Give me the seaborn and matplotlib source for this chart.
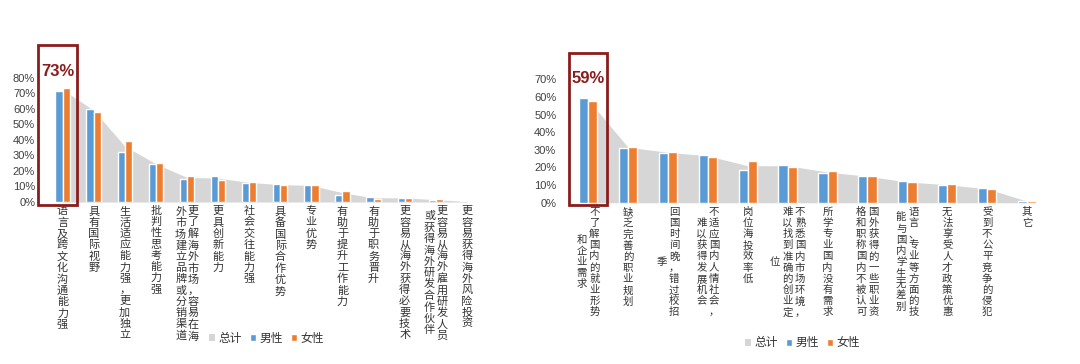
import numpy as np
import pandas as pd
import seaborn as sns
import matplotlib.pyplot as plt
from matplotlib.patches import Rectangle
from matplotlib.ticker import PercentFormatter

# left panel: advantages of studying abroad ('/' = column break in the vertical label)
left_labels = ["语言及跨文化沟通能力强", "具有国际视野", "生活适应能力强，更加独立", "批判性思考能力强",
               "更了解海外市场，容易在海/外市场建立品牌或分销渠道", "更具创新能力", "社会交往能力强",
               "具备国际合作优势", "专业优势", "有助于提升工作能力", "有助于职务晋升",
               "更容易从海外获得必要技术", "更容易从海外雇用研发人员/或获得海外研发合作伙伴",
               "更容易获得海外风险投资"]
left_male = [71.4, 59.9, 32.5, 24.4, 15.0, 16.5, 12.4, 11.6, 10.7, 4.7, 3.4, 2.6, 1.3, 0.4]
left_female = [73.4, 57.8, 39.4, 24.8, 16.5, 14.3, 12.8, 10.7, 10.7, 7.3, 2.1, 2.8, 1.7, 0.4]
left_total = [72.5, 59.0, 36.0, 24.6, 15.8, 15.4, 12.6, 11.2, 10.7, 6.0, 2.7, 2.7, 1.5, 0.4]

# right panel: difficulties when job hunting at home
right_labels = ["不了解国内的就业形势/和企业需求", "缺乏完善的职业规划", "回国时间晚，错过校招/季",
                "不适应国内人情社会，/难以获得发展机会", "岗位海投效率低",
                "不熟悉国内市场环境，/难以找到准确的创业定/位", "所学专业国内没有需求",
                "国外获得的一些职业资/格和职称国内不被认可", "语言、专业等方面的技/能与国内学生无差别",
                "无法享受人才政策优惠", "受到不公平竞争的侵犯", "其它"]
right_male = [59.2, 31.2, 28.4, 27.1, 18.4, 21.6, 16.6, 15.1, 12.1, 10.0, 8.1, 0.9]
right_female = [57.7, 31.8, 28.8, 26.1, 23.8, 20.4, 18.2, 14.9, 11.5, 10.4, 7.6, 0.9]
right_total = [58.5, 31.5, 28.6, 26.6, 21.0, 21.0, 17.4, 15.0, 11.8, 10.2, 7.9, 0.9]

BLUE = "#5B9BD5"
ORANGE = "#ED7D31"
GRAY = "#D6D6D6"
RED = "#8B1C1C"
TXT = "#333333"

sns.set_style("white")
plt.rcParams['font.family'] = ['Noto Sans CJK SC', 'DejaVu Sans']


def draw_panel(ax, labels, male, female, total, ymax, ytop, box_x, box_y, hl_pos, leg_pos, fs):
    cats = [s.replace('/', '') for s in labels]
    n = len(cats)
    df = pd.DataFrame({'cat': cats * 2, 'val': male + female,
                       'sex': ['男性'] * n + ['女性'] * n})
    sns.barplot(data=df, x='cat', y='val', hue='sex', palette=[BLUE, ORANGE],
                width=0.46, saturation=1, gap=0, ax=ax, zorder=2)
    x = np.arange(n)
    ax.fill_between(x, total, color=GRAY, lw=0, label='总计', zorder=0.5)

    ax.set_xlim(-0.5, n - 0.5)
    ax.set_ylim(0, ymax)
    ax.set_yticks(np.arange(0, ytop + 1, 10))
    ax.yaxis.set_major_formatter(PercentFormatter(100, decimals=0))
    ax.set_xticks(x)
    ax.set_xticklabels([])
    ax.set_xlabel('')
    ax.set_ylabel('')
    ax.tick_params(length=0, axis='y', pad=8.5, labelsize=8, labelcolor='#404040')
    for t in ax.get_yticklabels():
        t.set_fontfamily('Liberation Sans')
    sns.despine(ax=ax, left=True, bottom=True)

    # vertical stacked category labels
    gap = 9
    for i, s in enumerate(labels):
        cols = s.split('/')
        k_main = max(range(len(cols)), key=lambda k: len(cols[k]))
        offs = [((len(cols) - 1) / 2 - k) * gap for k in range(len(cols))]
        main = ax.annotate('\n'.join(cols[k_main]), xy=(i, 0), xycoords=('data', 'axes fraction'),
                           xytext=(offs[k_main], -3), textcoords='offset points',
                           ha='center', va='top', fontsize=fs, linespacing=1.14, color=TXT)
        for k, c in enumerate(cols):
            if k == k_main:
                continue
            ax.annotate('\n'.join(c), xy=(0.5, 0.5), xycoords=main,
                        xytext=(offs[k] - offs[k_main], 0), textcoords='offset points',
                        ha='center', va='center', fontsize=fs, linespacing=1.14, color=TXT)

    # highlight box on the first category
    ax.add_patch(Rectangle((box_x[0], box_y[0]), box_x[1] - box_x[0], box_y[1] - box_y[0],
                           transform=ax.get_xaxis_transform(), fill=False, ec=RED, lw=2,
                           clip_on=False, zorder=5))
    hl = max(male[0], female[0])
    ax.text(hl_pos[0], hl_pos[1], f"{hl:.0f}%", ha='center', va='center', fontsize=12,
            fontweight='bold', color=RED, fontfamily='Liberation Sans', zorder=6)

    h, l = ax.get_legend_handles_labels()
    order = [l.index('总计'), l.index('男性'), l.index('女性')]
    ax.legend([h[o] for o in order], [l[o] for o in order], loc='center',
              bbox_to_anchor=leg_pos, bbox_transform=ax.figure.transFigure, ncol=3,
              frameon=False, fontsize=8.5, handlelength=0.5, handleheight=0.5,
              handletextpad=0.3, columnspacing=0.7, labelcolor=TXT)


fig = plt.figure(figsize=(10.8, 3.64), dpi=100)
ax1 = fig.add_axes([0.0435, 0.445, 0.4032, 0.4269])
ax2 = fig.add_axes([0.526, 0.443, 0.4435, 0.4118])

draw_panel(ax1, left_labels, left_male, left_female, left_total, 100, 80,
           (-0.78, 0.47), (-0.02, 1.013), (-0.15, 84), (0.247, 0.071), 8)
draw_panel(ax2, right_labels, right_male, right_female, right_total, 85, 70,
           (-0.48, 0.48), (-0.013, 0.996), (0.0, 70.5), (0.743, 0.058), 7.5)

fig.savefig('out.png', dpi=100, facecolor='white')
